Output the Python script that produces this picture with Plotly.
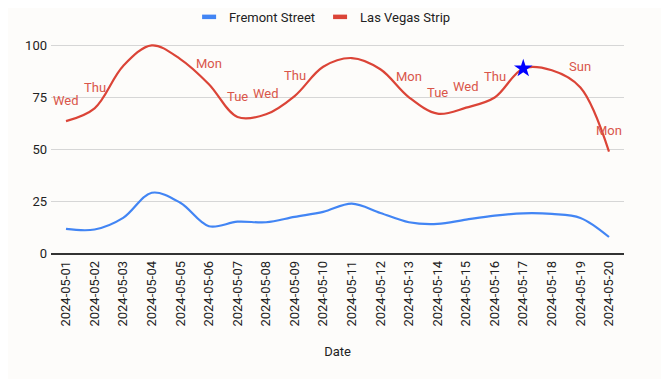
import plotly.graph_objects as go

dates = ["2024-05-%02d" % d for d in range(1, 21)]
fremont = [11.6, 11.3, 16.9, 29.0, 24.2, 12.9, 15.1, 14.8, 17.4, 19.8,
           23.8, 19.3, 14.8, 14.0, 16.1, 18.0, 19.1, 18.8, 16.9, 7.7]
strip = [63.5, 69.7, 90.1, 100.0, 93.4, 81.3, 65.5, 66.8, 75.6, 89.7,
         93.9, 88.5, 75.0, 67.1, 70.0, 74.9, 88.9, 88.0, 79.7, 48.8]
day_labels = ["Wed", "Thu", "", "", "", "Mon", "Tue", "Wed", "Thu", "",
              "", "", "Mon", "Tue", "Wed", "Thu", "", "", "Sun", "Mon"]
star_date = "2024-05-17"
y_ticks = [0, 25, 50, 75, 100]
series_names = ["Fremont Street", "Las Vegas Strip"]

BLUE = "#4285F4"
RED = "#DB4437"

fig = go.Figure()
fig.add_trace(go.Scatter(x=dates, y=fremont, name=series_names[0], mode="lines",
                         line=dict(color=BLUE, width=2.2, shape="spline", smoothing=1),
                         showlegend=False))
fig.add_trace(go.Scatter(x=dates, y=strip, name=series_names[1], mode="lines",
                         line=dict(color=RED, width=2.2, shape="spline", smoothing=1),
                         showlegend=False))
star_idx = dates.index(star_date)
fig.add_trace(go.Scatter(x=[star_date], y=[strip[star_idx]], mode="markers",
                         marker=dict(symbol="star", size=14, color="blue"),
                         showlegend=False, hoverinfo="skip"))
# legend entries drawn as short bars
for nm, col in zip(series_names, [BLUE, RED]):
    fig.add_trace(go.Scatter(x=[None], y=[None], name=nm, mode="markers",
                             marker=dict(symbol="line-ew", size=10,
                                         line=dict(width=4.5, color=col))))

for d, v, lab in zip(dates, strip, day_labels):
    if lab:
        fig.add_annotation(x=d, y=v, text=lab, showarrow=False, yshift=21,
                           font=dict(family="Roboto", size=13, color="#D9564A"))

fig.update_layout(
    width=669, height=379,
    margin=dict(l=43, r=53, t=27, b=134, autoexpand=False),
    paper_bgcolor="#fdfcfa", plot_bgcolor="#fdfcfa",
    font=dict(family="Roboto", size=13, color="#222"),
    legend=dict(orientation="h", x=0.474, xanchor="center", y=1.083, yanchor="middle",
                font=dict(size=13, color="#222")),
    showlegend=True,
)
fig.update_xaxes(type="category", tickangle=-90, showgrid=False, showline=True,
                 linecolor="#333", linewidth=1.5, ticks="", automargin=False,
                 ticklabelstandoff=1,
                 title=dict(text="Date", font=dict(size=13, color="#222"), standoff=21),
                 tickfont=dict(size=13, color="#222"))
fig.update_yaxes(range=[0, 105], tickvals=y_ticks, showgrid=True, gridcolor="#d6d6d6",
                 zeroline=False, ticks="", automargin=False, ticklabelstandoff=3,
                 tickfont=dict(size=13, color="#222"))

fig.write_html("out.html")
